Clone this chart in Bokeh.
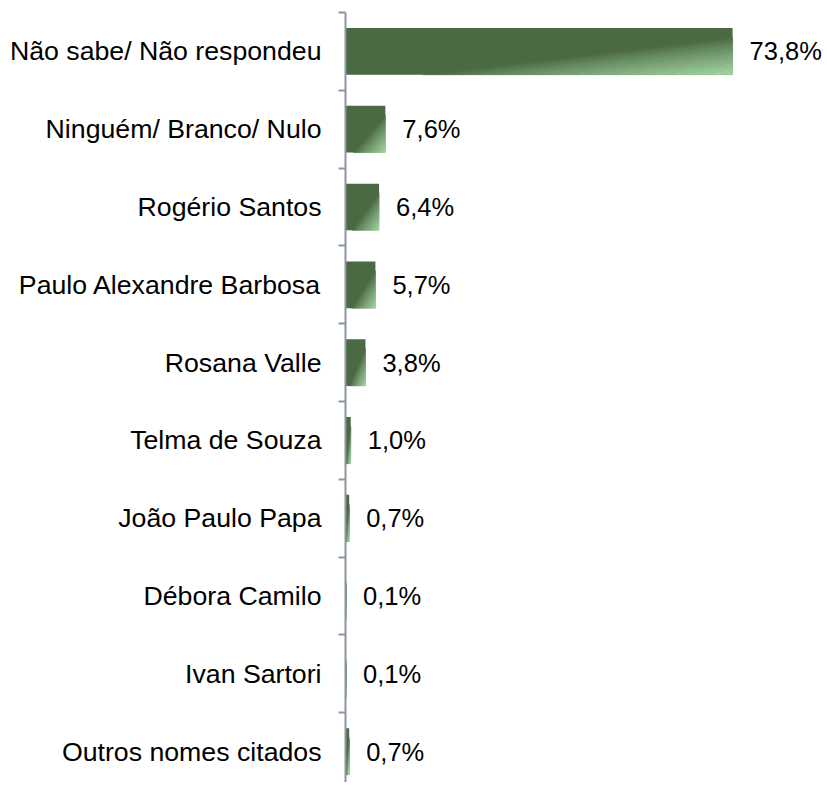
from bokeh.plotting import figure
from bokeh.models import Range1d, FixedTicker, ColumnDataSource
from bokeh.embed import file_html
from bokeh.resources import INLINE
from bokeh.core.properties import value

categories = ["Não sabe/ Não respondeu", "Ninguém/ Branco/ Nulo", "Rogério Santos",
              "Paulo Alexandre Barbosa", "Rosana Valle", "Telma de Souza",
              "João Paulo Papa", "Débora Camilo", "Ivan Sartori", "Outros nomes citados"]
values = [73.8, 7.6, 6.4, 5.7, 3.8, 1.0, 0.7, 0.1, 0.1, 0.7]

FONT = "Liberation Sans"
DARK = (0x4B, 0x69, 0x42)
LIGHT = (0xA6, 0xD8, 0xA6)
BAR_H = 0.6
PX_PER_CAT = 77.8
FRAME_W = 482
FRAME_H = 770

p = figure(output_backend="svg", toolbar_location=None,
           frame_width=FRAME_W, frame_height=FRAME_H,
           x_range=Range1d(0, FRAME_W / 5.245),
           y_range=Range1d(-0.5 + FRAME_H / PX_PER_CAT, -0.5),
           min_border_left=345, min_border_top=12, min_border_right=0, min_border_bottom=0)
p.outline_line_color = None
p.xgrid.visible = False
p.ygrid.visible = False
p.xaxis.visible = False
p.background_fill_color = "white"
p.border_fill_color = "white"

idx = list(range(len(categories)))
src = ColumnDataSource(dict(y=idx, right=values,
                            label=[f"{v:.1f}".replace(".", ",") + "%" for v in values]))
p.hbar(y="y", left=0, right="right", height=BAR_H, source=src,
       fill_color="#%02x%02x%02x" % DARK, line_color=None)

# diagonal gradient towards bottom-right corner (approximated by bands)
s0 = 1.2
n = 16
xs, ys, cols = [], [], []
for i, v in enumerate(values):
    top = i - BAR_H / 2
    for k in range(n):
        sa = s0 + (2 - s0) * k / n
        sb = s0 + (2 - s0) * (k + 1) / n
        t = (k + 0.5) / n
        f = t ** 0.85
        c = tuple(int(DARK[j] + (LIGHT[j] - DARK[j]) * f) for j in range(3))
        pts = [(sa - 1, 1), (sb - 1, 1), (1, sb - 1), (1, sa - 1)]
        xs.append([u * v for u, _ in pts])
        ys.append([top + w * BAR_H for _, w in pts])
        cols.append("#%02x%02x%02x" % c)
p.patches(xs=xs, ys=ys, fill_color=cols, line_color=cols, line_width=0.5)

p.text(x="right", y="y", text="label", source=src, x_offset=17,
       text_baseline="middle", text_align="left",
       text_font=value(FONT), text_font_size="25.5px", text_color="black")

ax = p.yaxis[0]
ax.ticker = FixedTicker(ticks=idx, minor_ticks=[i - 0.5 for i in range(len(categories) + 1)])
ax.major_label_overrides = {i: c for i, c in enumerate(categories)}
ax.major_label_text_font = FONT
ax.major_label_text_font_size = "26.7px"
ax.major_label_text_color = "black"
ax.major_label_standoff = 17
ax.major_tick_out = 0
ax.major_tick_in = 0
ax.minor_tick_out = 7
ax.minor_tick_in = 0
ax.axis_line_color = "#8C96A0"
ax.axis_line_width = 2
ax.minor_tick_line_color = "#8C96A0"
ax.minor_tick_line_width = 2

open("out.html", "w").write(file_html(p, INLINE))
